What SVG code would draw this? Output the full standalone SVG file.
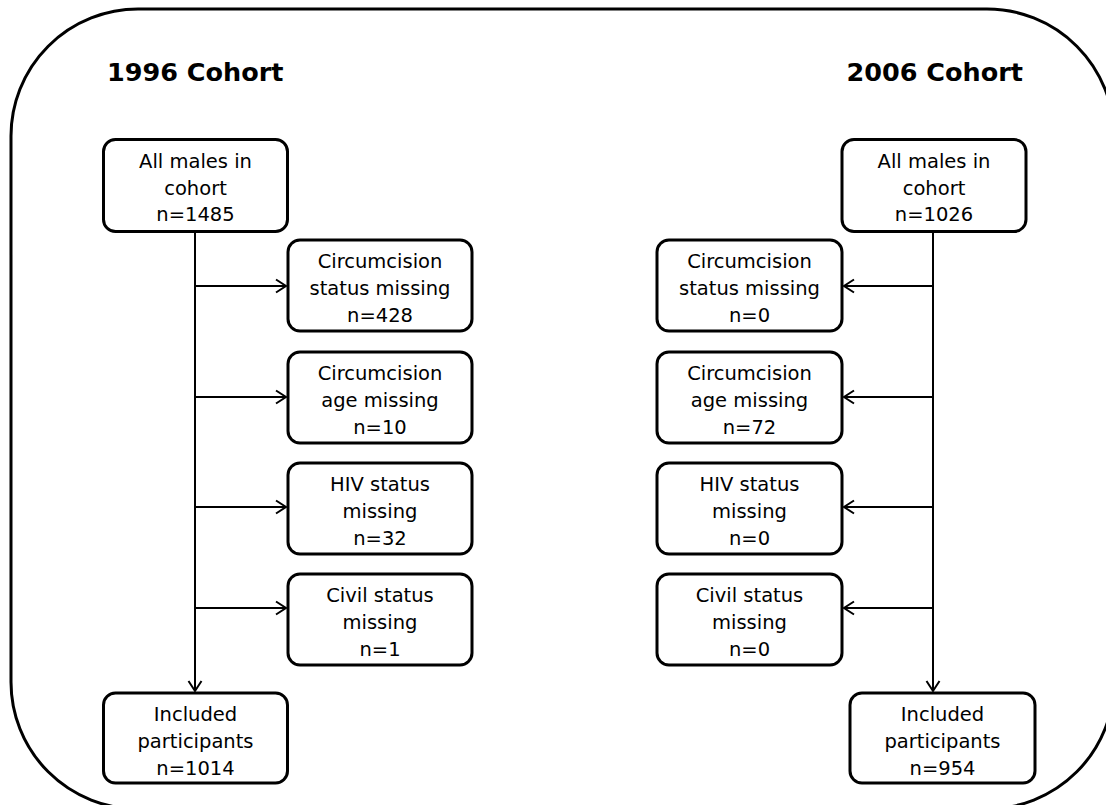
<svg xmlns="http://www.w3.org/2000/svg" width="1106" height="805" viewBox="0 0 1106 805">
<defs>
<style>
.frame{fill:none;stroke:#000;stroke-width:3}
.box{fill:#fff;stroke:#000;stroke-width:3}
.t{font-family:"DejaVu Sans","Verdana",sans-serif;font-size:19.5px;fill:#000;text-anchor:middle}
.title{font-family:"DejaVu Sans","Verdana",sans-serif;font-size:25.5px;font-weight:bold;fill:#000}
.c{fill:none;stroke:#000;stroke-width:2}
</style>
<marker id="arr" markerUnits="userSpaceOnUse" markerWidth="14" markerHeight="16" viewBox="0 0 14 16" refX="12" refY="8" orient="auto">
<path d="M2,1.5 L12,8 L2,14.5" fill="none" stroke="#000" stroke-width="2"/>
</marker>
</defs>
<rect width="1106" height="805" fill="#fff"/>
<rect class="frame" x="11" y="9" width="1103" height="800" rx="127" ry="127"/>
<text class="title" x="107" y="81">1996 Cohort</text>
<text class="title" x="1023" y="81" text-anchor="end">2006 Cohort</text>
<g id="connectors">
<path class="c" d="M195,231 V691" marker-end="url(#arr)"/>
<path class="c" d="M195,286 H286" marker-end="url(#arr)"/>
<path class="c" d="M195,397 H286" marker-end="url(#arr)"/>
<path class="c" d="M195,507 H286" marker-end="url(#arr)"/>
<path class="c" d="M195,608 H286" marker-end="url(#arr)"/>
<path class="c" d="M933,231 V691" marker-end="url(#arr)"/>
<path class="c" d="M933,286 H844" marker-end="url(#arr)"/>
<path class="c" d="M933,397 H844" marker-end="url(#arr)"/>
<path class="c" d="M933,507 H844" marker-end="url(#arr)"/>
<path class="c" d="M933,608 H844" marker-end="url(#arr)"/>
</g>
<g id="l-all">
<rect class="box" x="103.5" y="139.5" width="184" height="92" rx="12"/>
<text class="t" x="195.5" y="168">All males in</text>
<text class="t" x="195.5" y="194.5">cohort</text>
<text class="t" x="195.5" y="221">n=1485</text>
</g>
<g id="l-status">
<rect class="box" x="288" y="240" width="184" height="91" rx="12"/>
<text class="t" x="380" y="268">Circumcision</text>
<text class="t" x="380" y="295">status missing</text>
<text class="t" x="380" y="322">n=428</text>
</g>
<g id="l-age">
<rect class="box" x="288" y="352" width="184" height="91" rx="12"/>
<text class="t" x="380" y="380">Circumcision</text>
<text class="t" x="380" y="407">age missing</text>
<text class="t" x="380" y="434">n=10</text>
</g>
<g id="l-hiv">
<rect class="box" x="288" y="463" width="184" height="91" rx="12"/>
<text class="t" x="380" y="491">HIV status</text>
<text class="t" x="380" y="518">missing</text>
<text class="t" x="380" y="545">n=32</text>
</g>
<g id="l-civil">
<rect class="box" x="288" y="574" width="184" height="91" rx="12"/>
<text class="t" x="380" y="602">Civil status</text>
<text class="t" x="380" y="629">missing</text>
<text class="t" x="380" y="656">n=1</text>
</g>
<g id="l-included">
<rect class="box" x="103.5" y="693" width="184" height="90" rx="12"/>
<text class="t" x="195.5" y="721">Included</text>
<text class="t" x="195.5" y="748">participants</text>
<text class="t" x="195.5" y="775">n=1014</text>
</g>
<g id="r-all">
<rect class="box" x="842" y="139.5" width="184" height="92" rx="12"/>
<text class="t" x="934" y="168">All males in</text>
<text class="t" x="934" y="194.5">cohort</text>
<text class="t" x="934" y="221">n=1026</text>
</g>
<g id="r-status">
<rect class="box" x="657" y="240" width="185" height="91" rx="12"/>
<text class="t" x="749.5" y="268">Circumcision</text>
<text class="t" x="749.5" y="295">status missing</text>
<text class="t" x="749.5" y="322">n=0</text>
</g>
<g id="r-age">
<rect class="box" x="657" y="352" width="185" height="91" rx="12"/>
<text class="t" x="749.5" y="380">Circumcision</text>
<text class="t" x="749.5" y="407">age missing</text>
<text class="t" x="749.5" y="434">n=72</text>
</g>
<g id="r-hiv">
<rect class="box" x="657" y="463" width="185" height="91" rx="12"/>
<text class="t" x="749.5" y="491">HIV status</text>
<text class="t" x="749.5" y="518">missing</text>
<text class="t" x="749.5" y="545">n=0</text>
</g>
<g id="r-civil">
<rect class="box" x="657" y="574" width="185" height="91" rx="12"/>
<text class="t" x="749.5" y="602">Civil status</text>
<text class="t" x="749.5" y="629">missing</text>
<text class="t" x="749.5" y="656">n=0</text>
</g>
<g id="r-included">
<rect class="box" x="850" y="693" width="185" height="90" rx="12"/>
<text class="t" x="942.5" y="721">Included</text>
<text class="t" x="942.5" y="748">participants</text>
<text class="t" x="942.5" y="775">n=954</text>
</g>
</svg>
